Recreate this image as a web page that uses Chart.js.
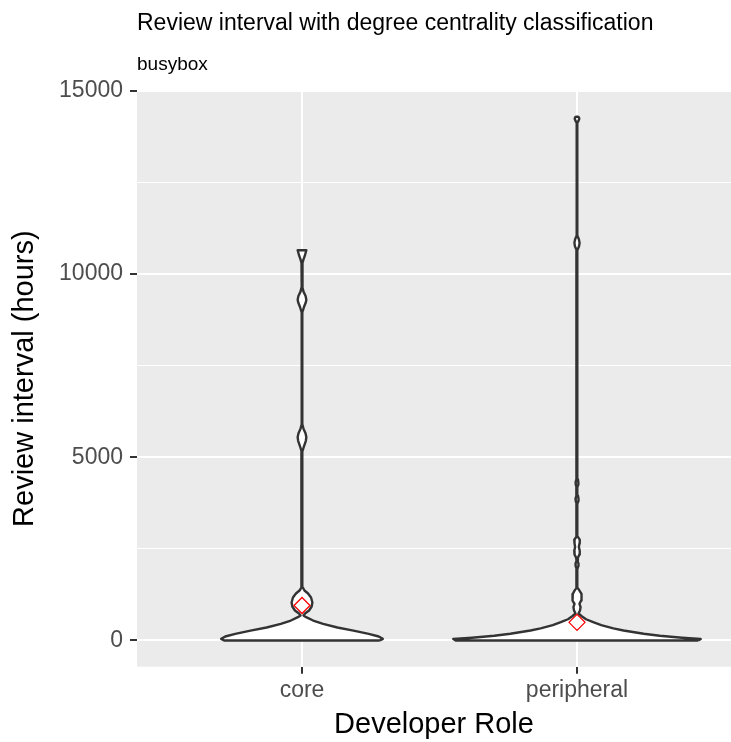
<!DOCTYPE html>
<html>
<head>
<meta charset="utf-8">
<title>Review interval with degree centrality classification</title>
<script src="https://cdn.jsdelivr.net/npm/chart.js@4.4.0/dist/chart.umd.min.js"></script>
<style>
  html, body { margin: 0; padding: 0; background: #fff; overflow: hidden; }
  canvas { display: block; }
</style>
</head>
<body>
<canvas id="violinChart" width="731" height="742"></canvas>
<script>
// Developer roles on the x axis
const categories = ['core', 'peripheral'];

// y ticks: every 2500 h, labels only on the major ones
const yTicks = [0, 2500, 5000, 7500, 10000, 12500, 15000];
const yMajor = [0, 5000, 10000, 15000];

// Violin outlines: review interval (hours) and relative density (1 = widest)
const coreHours = [0, 45, 110, 180, 270, 355, 455, 545, 636, 682, 736, 818, 927, 1036, 1173, 1282, 1364, 1445, 1600,
  5150, 5300, 5450, 5545, 5650, 5780, 5900, 8950, 9100, 9230, 9300, 9400, 9520, 9650, 10300, 10400, 10500, 10600, 10650];
const coreDensity = [0.629, 0.653, 0.620, 0.539, 0.416, 0.286, 0.171, 0.090, 0.033, 0.012, 0.024, 0.057, 0.078, 0.084, 0.073, 0.049, 0.020, 0.007, 0.0025,
  0.0025, 0.016, 0.031, 0.035, 0.029, 0.012, 0.0025, 0.0025, 0.016, 0.031, 0.035, 0.029, 0.012, 0.0025, 0.004, 0.012, 0.023, 0.031, 0.035];

const peripheralHours = [0, 40, 75, 130, 183, 273, 330, 420, 500, 580, 655, 736, 820, 910, 1000, 1090, 1180, 1270, 1360, 1430, 1520,
  1950, 2030, 2100, 2180, 2260, 2350, 2450, 2550, 2650, 2750, 2830, 2950, 3720, 3800, 3870, 3950, 4020,
  4180, 4250, 4320, 4400, 4460, 10650, 10750, 10850, 10950, 11050, 14120, 14180, 14230, 14270, 14290];
const peripheralDensity = [0.980, 1, 0.849, 0.669, 0.539, 0.376, 0.294, 0.196, 0.131, 0.073, 0.041, 0.012, 0.024, 0.029, 0.020, 0.033, 0.039, 0.034, 0.020, 0.007, 0.0025,
  0.0025, 0.011, 0.012, 0.004, 0.007, 0.020, 0.022, 0.015, 0.020, 0.022, 0.007, 0.0025, 0.0025, 0.010, 0.012, 0.008, 0.0025,
  0.0025, 0.010, 0.011, 0.007, 0.0025, 0.0025, 0.016, 0.021, 0.015, 0.0025, 0.0025, 0.012, 0.018, 0.016, 0.008];

// Mean review interval per role (red diamonds)
const meanHours = [955, 495];

const HALF_WIDTH = 0.45; // widest violin spans 0.9 of a category slot
const FONT = 'Liberation Sans, Arial, Helvetica, sans-serif';

// Right side going up, left side coming down, closed at the base
function violinOutline(pos, hours, density) {
  const right = hours.map((h, i) => ({ x: pos + density[i] * HALF_WIDTH, y: h }));
  const left = hours.map((h, i) => ({ x: pos - density[i] * HALF_WIDTH, y: h })).reverse();
  return right.concat(left, [right[0]]);
}

const panelBackground = {
  id: 'panelBackground',
  beforeDraw(chart) {
    const { ctx, chartArea: a } = chart;
    ctx.save();
    ctx.fillStyle = '#EBEBEB';
    ctx.fillRect(a.left, a.top, a.right - a.left, a.bottom - a.top);
    ctx.restore();
  }
};

const violinStyle = {
  type: 'line',
  borderColor: '#333333',
  borderWidth: 2.4,
  borderJoinStyle: 'round',
  backgroundColor: '#FFFFFF',
  fill: 'shape',
  pointRadius: 0,
  tension: 0,
  order: 1
};

new Chart(document.getElementById('violinChart'), {
  type: 'scatter',
  data: {
    datasets: [
      {
        label: 'mean',
        data: meanHours.map((m, i) => ({ x: i + 1, y: m })),
        pointStyle: 'rectRot',
        pointRadius: 8,
        pointBorderColor: '#FF0000',
        pointBackgroundColor: 'rgba(0,0,0,0)',
        pointBorderWidth: 1.3,
        order: 0
      },
      { ...violinStyle, label: categories[0], data: violinOutline(1, coreHours, coreDensity) },
      { ...violinStyle, label: categories[1], data: violinOutline(2, peripheralHours, peripheralDensity) }
    ]
  },
  options: {
    responsive: false,
    animation: false,
    events: [],
    // no extra room for point radius, the panel runs to the right edge
    layout: { padding: 0, autoPadding: false },
    plugins: {
      legend: { display: false },
      tooltip: { enabled: false },
      title: {
        display: true,
        text: 'Review interval with degree centrality classification',
        align: 'start',
        fullSize: false,
        color: '#000000',
        font: { family: FONT, size: 23, weight: 'normal', lineHeight: 1.2 },
        padding: { top: 10, bottom: 8 }
      },
      subtitle: {
        display: true,
        text: 'busybox',
        align: 'start',
        fullSize: false,
        color: '#000000',
        font: { family: FONT, size: 19, weight: 'normal', lineHeight: 1.2 },
        padding: { top: 8.2, bottom: 14 }
      }
    },
    scales: {
      x: {
        type: 'linear',
        // the panel is cut by the canvas edge, so the upper limit stops short of 2.6
        min: 0.4,
        max: 2.56,
        afterBuildTicks: s => { s.ticks = categories.map((_, i) => ({ value: i + 1 })); },
        afterFit: s => { s.height = 75.3; },
        border: { display: false },
        grid: { color: '#FFFFFF', lineWidth: 2, tickColor: '#333333', tickLength: 7, tickWidth: 2 },
        ticks: {
          color: '#4D4D4D',
          font: { family: FONT, size: 23 },
          padding: 3,
          maxRotation: 0,
          autoSkip: false,
          callback: v => categories[v - 1] ?? ''
        },
        title: {
          display: true,
          text: 'Developer Role',
          color: '#000000',
          font: { family: FONT, size: 29, lineHeight: 1.2 },
          padding: { top: 0, bottom: 0 }
        }
      },
      y: {
        min: -715,
        max: 15005,
        afterBuildTicks: s => { s.ticks = yTicks.map(v => ({ value: v })); },
        afterFit: s => { s.width = 137; },
        border: { display: false },
        grid: {
          color: '#FFFFFF',
          lineWidth: c => yMajor.includes(c.tick.value) ? 2 : 1,
          tickColor: c => yMajor.includes(c.tick.value) ? '#333333' : 'rgba(0,0,0,0)',
          tickLength: 7,
          tickWidth: 2
        },
        ticks: {
          color: '#4D4D4D',
          font: { family: FONT, size: 23 },
          padding: 7,
          autoSkip: false,
          callback: v => yMajor.includes(v) ? String(v) : ''
        },
        title: {
          display: true,
          text: 'Review interval (hours)',
          color: '#000000',
          font: { family: FONT, size: 29, lineHeight: 1.2 },
          padding: { top: 7.5, bottom: 0 }
        }
      }
    }
  },
  plugins: [panelBackground]
});
</script>
</body>
</html>
